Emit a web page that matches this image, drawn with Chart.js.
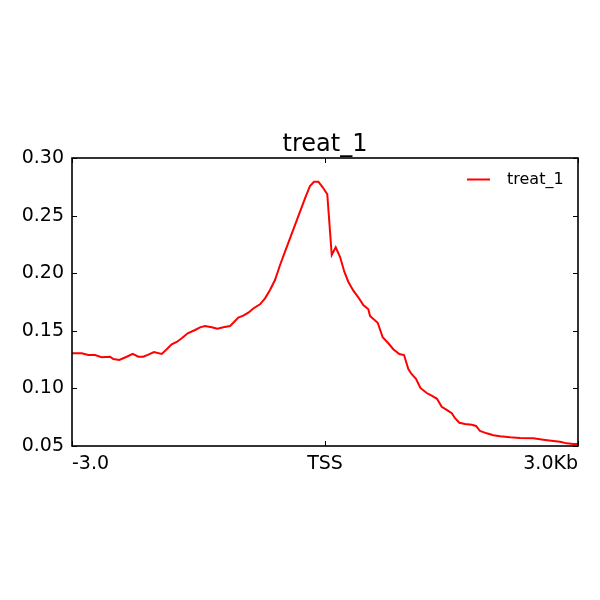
<!DOCTYPE html>
<html>
<head>
<meta charset="utf-8">
<script src="https://cdn.jsdelivr.net/npm/chart.js@4/dist/chart.umd.min.js"></script>
<style>
  html, body { margin: 0; padding: 0; background: #ffffff; }
  canvas { display: block; }
</style>
</head>
<body>
<canvas id="c" width="600" height="600"></canvas>
<script>
// ---- data ----
const chartTitle = "treat_1";
const seriesLabel = "treat_1";
const positionsKb = [
  -3.000, -2.885, -2.807, -2.727, -2.648, -2.549, -2.510, -2.439, -2.351, -2.280,
  -2.214, -2.155, -2.095, -2.028, -1.936, -1.877, -1.818, -1.758, -1.699, -1.628,
  -1.541, -1.482, -1.423, -1.343, -1.277, -1.206, -1.126, -1.087, -1.028, -0.969,
  -0.909, -0.850, -0.771, -0.711, -0.652, -0.593, -0.533, -0.474, -0.415, -0.356,
  -0.296, -0.237, -0.178, -0.130, -0.079, -0.027, 0.027, 0.080, 0.127, 0.178,
  0.229, 0.276, 0.336, 0.395, 0.454, 0.514, 0.534, 0.625, 0.684, 0.751,
  0.810, 0.881, 0.937, 0.988, 1.028, 1.079, 1.131, 1.206, 1.265, 1.328,
  1.384, 1.443, 1.503, 1.542, 1.593, 1.660, 1.740, 1.791, 1.838, 1.918,
  1.996, 2.075, 2.194, 2.312, 2.470, 2.589, 2.707, 2.787, 2.866, 2.945,
  3.000
];
const signal = [
  0.1305, 0.1305, 0.1290, 0.1290, 0.1270, 0.1275, 0.1255, 0.1247, 0.1275, 0.1299,
  0.1275, 0.1275, 0.1293, 0.1316, 0.1299, 0.1340, 0.1383, 0.1403, 0.1435, 0.1478,
  0.1507, 0.1530, 0.1542, 0.1530, 0.1518, 0.1530, 0.1542, 0.1570, 0.1614, 0.1631,
  0.1657, 0.1694, 0.1730, 0.1782, 0.1854, 0.1941, 0.2071, 0.2187, 0.2303, 0.2418,
  0.2534, 0.2650, 0.2757, 0.2794, 0.2794, 0.2746, 0.2685, 0.2158, 0.2225, 0.2143,
  0.2013, 0.1926, 0.1848, 0.1791, 0.1724, 0.1687, 0.1629, 0.1570, 0.1444, 0.1392,
  0.1340, 0.1299, 0.1290, 0.1168, 0.1123, 0.1084, 0.1004, 0.0960, 0.0937, 0.0910,
  0.0841, 0.0813, 0.0784, 0.0741, 0.0702, 0.0691, 0.0685, 0.0674, 0.0630, 0.0610,
  0.0593, 0.0584, 0.0576, 0.0570, 0.0567, 0.0555, 0.0544, 0.0537, 0.0523, 0.0517,
  0.0517
];
const xTickValues = [-3, 0, 3];
const xTickLabels = ["-3.0", "TSS", "3.0Kb"];
const yTickValues = [0.05, 0.10, 0.15, 0.20, 0.25, 0.30];

// ---- styles ----
const FONT = "'DejaVu Sans', 'Liberation Sans', sans-serif";
const lineColor = "#ff0000";

const points = positionsKb.map((x, i) => ({ x: x, y: signal[i] }));

const framePlugin = {
  id: 'frame',
  afterDraw(chart) {
    const ctx = chart.ctx;
    const a = chart.chartArea;
    const xs = chart.scales.x, ys = chart.scales.y;
    ctx.save();
    ctx.strokeStyle = '#000';
    ctx.lineWidth = 1;
    const tl = 5;
    ctx.beginPath();
    yTickValues.forEach(v => {
      const py = Math.round(ys.getPixelForValue(v)) + 0.5;
      ctx.moveTo(a.left, py); ctx.lineTo(a.left + tl, py);
      ctx.moveTo(a.right, py); ctx.lineTo(a.right - tl, py);
    });
    xTickValues.forEach(v => {
      const px = Math.round(xs.getPixelForValue(v)) + 0.5;
      ctx.moveTo(px, a.bottom); ctx.lineTo(px, a.bottom - tl);
      ctx.moveTo(px, a.top); ctx.lineTo(px, a.top + tl);
    });
    ctx.stroke();
    ctx.lineWidth = 1.6;
    ctx.strokeRect(a.left, a.top, a.right - a.left, a.bottom - a.top);
    // title
    ctx.fillStyle = '#000';
    ctx.font = "24px " + FONT;
    ctx.textAlign = 'center';
    ctx.textBaseline = 'alphabetic';
    ctx.fillText(chartTitle, (a.left + a.right) / 2, a.top - 7);
    // legend
    const ds = chart.data.datasets[0];
    const ly = a.top + 21.5;
    ctx.strokeStyle = ds.borderColor;
    ctx.lineWidth = 2;
    ctx.beginPath();
    ctx.moveTo(a.right - 111, ly); ctx.lineTo(a.right - 88, ly);
    ctx.stroke();
    ctx.fillStyle = '#000';
    ctx.font = "16px " + FONT;
    ctx.textAlign = 'left';
    ctx.textBaseline = 'middle';
    ctx.fillText(ds.label, a.right - 71, ly);
    ctx.restore();
  }
};

new Chart(document.getElementById('c'), {
  type: 'line',
  data: {
    datasets: [{
      label: seriesLabel,
      data: points,
      borderColor: lineColor,
      backgroundColor: lineColor,
      borderWidth: 2,
      pointRadius: 0,
      tension: 0,
      fill: false
    }]
  },
  options: {
    responsive: false,
    animation: false,
    devicePixelRatio: 1,
    layout: { padding: { left: 0, right: 22, top: 158, bottom: 0 } },
    plugins: {
      legend: { display: false },
      title: { display: false },
      tooltip: { enabled: false }
    },
    scales: {
      x: {
        type: 'linear',
        min: -3, max: 3,
        grid: { display: false, drawTicks: false },
        border: { display: false },
        afterBuildTicks: (s) => { s.ticks = xTickValues.map(v => ({ value: v })); },
        afterFit: (s) => { s.height = 154; },
        ticks: {
          align: 'inner',
          padding: 7,
          maxRotation: 0,
          autoSkip: false,
          color: '#000',
          font: { family: FONT, size: 19 },
          callback: (v) => { const i = xTickValues.indexOf(v); return i >= 0 ? xTickLabels[i] : ''; }
        }
      },
      y: {
        type: 'linear',
        min: 0.05, max: 0.30,
        grid: { display: false, drawTicks: false },
        border: { display: false },
        afterBuildTicks: (s) => { s.ticks = yTickValues.map(v => ({ value: v })); },
        afterFit: (s) => { s.width = 72; },
        ticks: {
          padding: 8,
          color: '#000',
          font: { family: FONT, size: 19 },
          callback: (v) => Number(v).toFixed(2)
        }
      }
    }
  },
  plugins: [framePlugin]
});
</script>
</body>
</html>
